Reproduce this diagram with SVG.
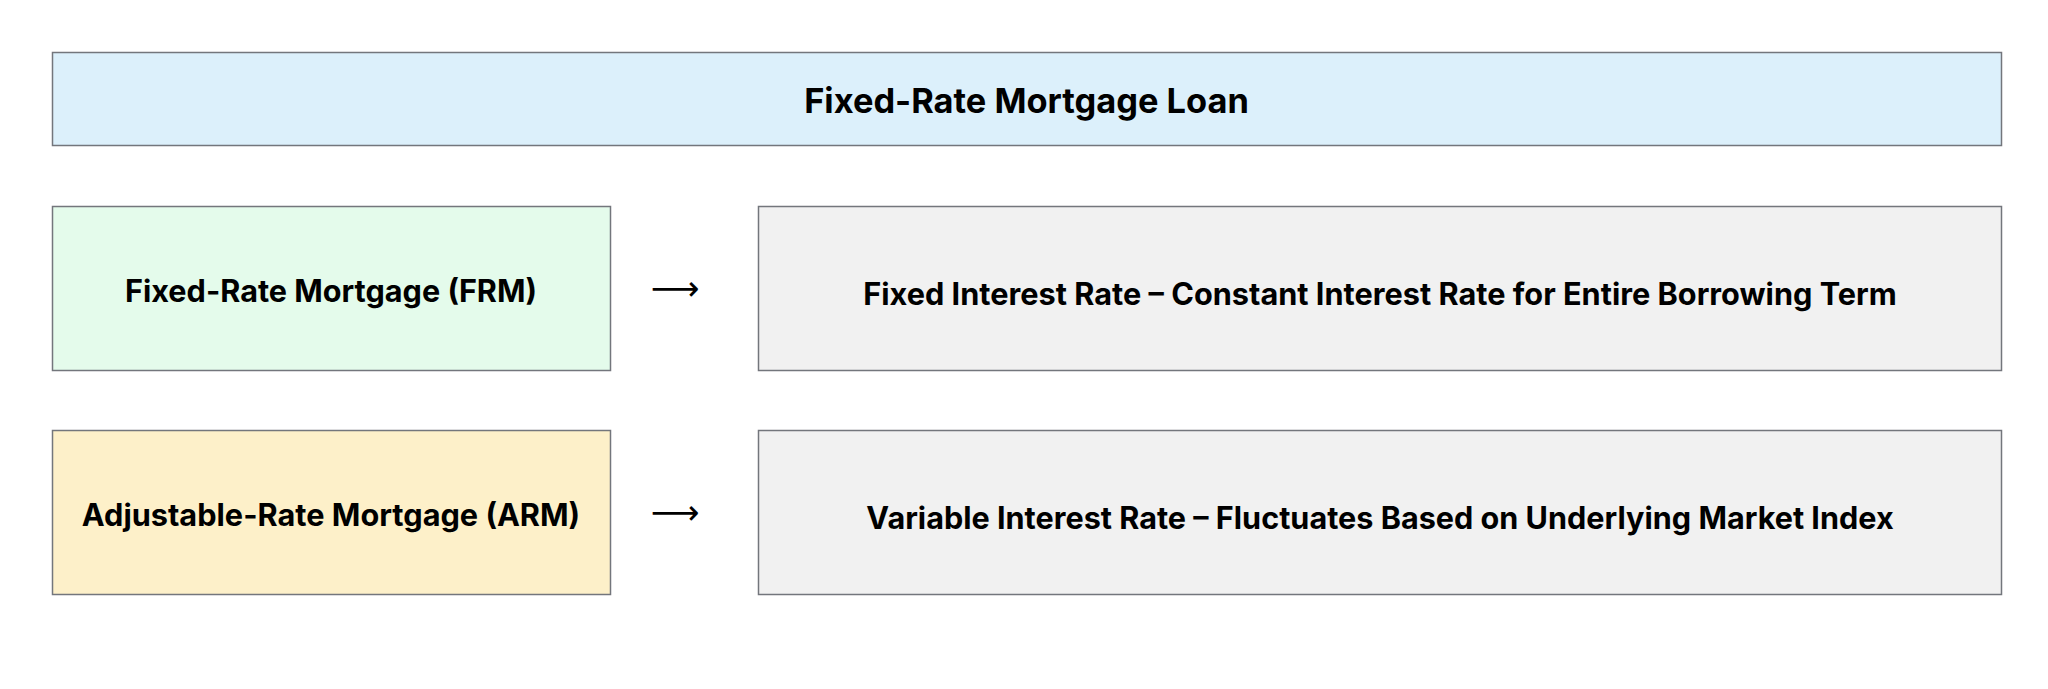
<svg xmlns="http://www.w3.org/2000/svg" width="2048" height="689" viewBox="0 0 2048 689">
<style>
.box{stroke:#73767c;stroke-width:1.5}
.lbl{font-family:Inter,"Liberation Sans",sans-serif;font-weight:700;fill:#000;text-anchor:middle;dominant-baseline:central}
.arr{font-family:"DejaVu Sans",sans-serif;font-size:34px;fill:#000;text-anchor:middle;dominant-baseline:central}
</style>
<rect width="2048" height="689" fill="#fff"/>
<g id="title">
<rect class="box" x="52.5" y="52.5" width="1949" height="93" fill="#dcf0fb"/>
<text class="lbl" x="1026.5" y="100" font-size="34.4">Fixed-Rate Mortgage Loan</text>
</g>
<g id="frm">
<rect class="box" x="52.5" y="206.5" width="558" height="164" fill="#e4fbeb"/>
<text class="lbl" x="331" y="290" font-size="30.6">Fixed-Rate Mortgage (FRM)</text>
</g>
<g id="frm-desc">
<rect class="box" x="758.5" y="206.5" width="1243" height="164" fill="#f1f1f1"/>
<text class="lbl" x="1380" y="293" font-size="30.7">Fixed Interest Rate – Constant Interest Rate for Entire Borrowing Term</text>
</g>
<g id="arm">
<rect class="box" x="52.5" y="430.5" width="558" height="164" fill="#fdf0c9"/>
<text class="lbl" x="331" y="514" font-size="30.7">Adjustable-Rate Mortgage (ARM)</text>
</g>
<g id="arm-desc">
<rect class="box" x="758.5" y="430.5" width="1243" height="164" fill="#f1f1f1"/>
<text class="lbl" x="1380" y="517" font-size="30.6">Variable Interest Rate – Fluctuates Based on Underlying Market Index</text>
</g>
<g id="connectors">
<text class="arr" x="675" y="288">⟶</text>
<text class="arr" x="675" y="512">⟶</text>
</g>
</svg>
